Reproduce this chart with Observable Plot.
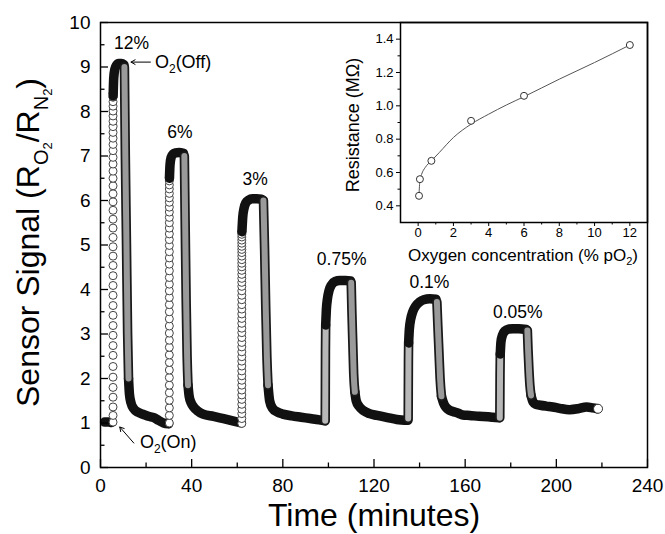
<!DOCTYPE html>
<html><head><meta charset="utf-8">
<script src="https://cdn.jsdelivr.net/npm/d3@7"></script>
<script src="https://cdn.jsdelivr.net/npm/@observablehq/plot@0.6"></script>
<style>
body{margin:0;background:#fff;}
#wrap{position:relative;width:665px;height:534px;}
#wrap svg{position:absolute;overflow:visible;}
</style></head><body><div id="wrap"></div>
<script>
// ---------------- Main chart data ----------------
const xTicks = [0, 40, 80, 120, 160, 200, 240];
const xMinor = [20, 60, 100, 140, 180, 220];
const yTicks = [0, 1, 2, 3, 4, 5, 6, 7, 8, 9, 10];
const yMinor = [0.5, 1.5, 2.5, 3.5, 4.5, 5.5, 6.5, 7.5, 8.5, 9.5];

const pulseNames = ["12%", "6%", "3%", "0.75%", "0.1%", "0.05%"];
const labelT = [13.6, 34.8, 67.9, 105.8, 144.3, 183.1];
const labelV = [9.52, 7.52, 6.47, 4.67, 4.15, 3.49];

// Rising edges where the individual samples are visible (pulses 12%, 6%, 3%)
const riseCircleT = [5.5, 30.2, 62.0];
const riseCircleV = [
  [1.02, 1.17, 1.36, 1.58, 1.80, 2.03, 2.27, 2.52, 2.74, 2.97, 3.19, 3.42, 3.64, 3.87, 4.09, 4.31, 4.54, 4.75, 4.96, 5.17, 5.38, 5.58, 5.78, 5.97, 6.15, 6.33, 6.50, 6.66, 6.82, 6.97, 7.12, 7.26, 7.40, 7.53, 7.66, 7.78, 7.90, 8.01, 8.12, 8.22, 8.32, 8.41],
  [1.00, 1.17, 1.34, 1.51, 1.68, 1.85, 2.02, 2.19, 2.36, 2.53, 2.70, 2.86, 3.02, 3.18, 3.34, 3.50, 3.66, 3.82, 3.97, 4.12, 4.27, 4.42, 4.57, 4.71, 4.85, 4.99, 5.12, 5.25, 5.38, 5.50, 5.62, 5.74, 5.85, 5.96, 6.06, 6.16, 6.26, 6.35, 6.44, 6.52],
  [0.99, 1.10, 1.21, 1.31, 1.42, 1.53, 1.63, 1.74, 1.85, 1.96, 2.06, 2.17, 2.28, 2.39, 2.49, 2.60, 2.71, 2.81, 2.92, 3.03, 3.13, 3.24, 3.35, 3.45, 3.56, 3.66, 3.77, 3.87, 3.97, 4.07, 4.16, 4.25, 4.34, 4.43, 4.51, 4.59, 4.67, 4.75, 4.83, 4.90, 4.97, 5.04, 5.11, 5.18, 5.24, 5.30]
];

// Dense rising edges (pulses 0.75%, 0.1%, 0.05%)
const riseBandT = [
  [98.6, 98.65, 98.7, 98.8],
  [135.0, 135.05, 135.1, 135.2],
  [175.2, 175.25, 175.3, 175.4]
];
const riseBandV = [
  [1.05, 1.8, 2.6, 3.2],
  [1.10, 1.7, 2.3, 2.8],
  [1.12, 1.6, 2.1, 2.55]
];

// Pulse tops (O2 on)
const topT = [
  [5.55, 5.8, 6.3, 7.0, 8.0, 9.2, 10.3],
  [30.25, 30.5, 31.0, 31.8, 33.0, 34.5, 36.4],
  [62.05, 62.4, 63.0, 63.8, 65.0, 66.6, 68.5, 70.5, 71.3],
  [98.8, 99.1, 99.6, 100.3, 101.3, 102.9, 105.0, 107.5, 109.8],
  [135.2, 135.5, 136.1, 137.0, 138.3, 140.0, 141.8, 144.5, 147.2],
  [175.4, 175.7, 176.4, 177.5, 179.0, 181.0, 183.5, 186.8]
];
const topV = [
  [8.35, 8.75, 8.95, 9.04, 9.08, 9.08, 9.05],
  [6.5, 6.8, 6.97, 7.04, 7.07, 7.08, 7.06],
  [5.3, 5.62, 5.83, 5.95, 6.01, 6.04, 6.04, 6.03, 6.0],
  [3.2, 3.55, 3.8, 3.98, 4.1, 4.18, 4.2, 4.2, 4.19],
  [2.8, 3.1, 3.33, 3.5, 3.63, 3.72, 3.77, 3.79, 3.78],
  [2.55, 2.82, 2.98, 3.07, 3.11, 3.12, 3.12, 3.1]
];

// Falling edges (O2 off)
const fallT = [
  [10.5, 10.9, 11.4, 11.9, 12.3],
  [36.8, 37.2, 37.6, 38.0, 38.4],
  [71.5, 72.0, 72.5, 73.0, 73.5],
  [110.0, 110.3, 110.7, 111.1, 111.6],
  [147.6, 148.0, 148.5, 149.0, 149.6],
  [187.3, 187.6, 188.0, 188.4, 188.9]
];
const fallV = [
  [9.0, 7.0, 5.0, 3.0, 2.0],
  [7.0, 5.3, 3.7, 2.5, 1.85],
  [6.0, 4.9, 3.6, 2.5, 1.85],
  [4.15, 3.5, 2.8, 2.1, 1.7],
  [3.72, 3.2, 2.6, 2.0, 1.6],
  [3.08, 2.65, 2.2, 1.85, 1.62]
];

// Baseline before the first pulse and recovery tails
const tailT = [
  [1.8, 3.5, 4.8],
  [12.3, 12.7, 13.4, 14.6, 16.5, 18.9, 21.0, 23.4, 25.5, 27.7, 29.9],
  [38.4, 38.9, 39.8, 41.0, 42.4, 45.0, 49.6, 54.0, 58.0, 61.8],
  [73.5, 74.2, 75.5, 77.5, 80.0, 84.0, 88.0, 92.0, 96.0, 98.4],
  [111.6, 112.2, 113.5, 115.3, 118.0, 121.3, 126.0, 130.0, 134.9],
  [149.6, 150.5, 151.6, 153.0, 154.6, 157.0, 159.0, 162.0, 166.0, 170.0, 172.0, 175.0],
  [188.9, 189.8, 191.0, 193.0, 195.5, 198.4, 201.5, 205.8, 209.5, 213.3, 216.0, 218.0]
];
const tailV = [
  [1.02, 1.02, 1.01],
  [2.0, 1.65, 1.45, 1.32, 1.24, 1.19, 1.15, 1.12, 1.06, 1.0, 0.98],
  [1.85, 1.6, 1.45, 1.35, 1.28, 1.2, 1.15, 1.1, 1.05, 1.0],
  [1.85, 1.5, 1.33, 1.25, 1.2, 1.16, 1.13, 1.1, 1.07, 1.05],
  [1.7, 1.5, 1.37, 1.28, 1.21, 1.17, 1.12, 1.08, 1.06],
  [1.6, 1.45, 1.35, 1.29, 1.26, 1.22, 1.18, 1.17, 1.15, 1.14, 1.13, 1.12],
  [1.62, 1.47, 1.42, 1.4, 1.38, 1.36, 1.33, 1.3, 1.32, 1.36, 1.34, 1.32]
];
const endT = [218.3];
const endV = [1.32];

// Annotations
const arrowT1 = [21.9, 14.6], arrowV1 = [9.11, 0.55];
const arrowT2 = [13.4, 8.45], arrowV2 = [9.11, 0.91];
const o2Text = ["(Off)", "(On)"];
const o2T = [24.1, 17.5];
const o2V = [8.97, 0.43];

// ---------------- Inset data ----------------
const insetX = [0.05, 0.1, 0.75, 3, 6, 12];
const insetR = [0.46, 0.56, 0.67, 0.91, 1.06, 1.365];
const fitX = [0.05, 0.1, 0.2, 0.4, 0.75, 1.2, 2, 3, 4, 5, 6, 8, 10, 12];
const fitR = [0.47, 0.55, 0.59, 0.63, 0.67, 0.72, 0.81, 0.89, 0.95, 1.005, 1.055, 1.16, 1.26, 1.365];
const insetXTicks = [0, 2, 4, 6, 8, 10, 12];
const insetXMinor = [1, 3, 5, 7, 9, 11];
const insetYTicks = [0.4, 0.6, 0.8, 1.0, 1.2, 1.4];
const insetYMinor = [0.5, 0.7, 0.9, 1.1, 1.3];

// ---------------- Build tables ----------------
const FONT = "'Liberation Sans', Arial, sans-serif";
function rowsOf(Ts, Vs, kind) {
  const rows = [];
  Ts.forEach((ts, i) => ts.forEach((t, j) => rows.push({t, v: Vs[i][j], seg: kind + i})));
  return rows;
}
const tailRows = rowsOf(tailT, tailV, "tail");
const topRows = rowsOf(topT, topV, "top");
const fallRows = rowsOf(fallT, fallV, "fall");
const riseBandRows = rowsOf(riseBandT, riseBandV, "rise");
const circleRows = [];
riseCircleV.forEach((vs, i) => vs.forEach(v => circleRows.push({t: riseCircleT[i], v})));

const band = (stroke, w) => ({x: "t", y: "v", z: "seg", stroke, strokeWidth: w,
  strokeLinecap: "round", strokeLinejoin: "round", curve: "monotone-x"});

const main = Plot.plot({
  width: 665, height: 534,
  marginLeft: 100, marginRight: 18, marginTop: 22, marginBottom: 67,
  style: {fontFamily: FONT, background: "none", color: "black"},
  x: {domain: [0, 240]},
  y: {domain: [0, 10]},
  marks: [
    Plot.line(tailRows, band("#111", 9.5)),
    Plot.line(riseBandRows, band("#1a1a1a", 9.5)),
    Plot.line(riseBandRows, band("#b8b8b8", 6)),
    Plot.dot(circleRows, {x: "t", y: "v", r: 4, fill: "white", stroke: "#444", strokeWidth: 1}),
    Plot.line(topRows, band("#111", 9.5)),
    Plot.line(fallRows, band("#1a1a1a", 9.5)),
    Plot.line(fallRows, band("#9a9a9a", 6)),
    Plot.dot(endT, {x: endT, y: endV, r: 4.5, fill: "white", stroke: "#333", strokeWidth: 1}),
    Plot.text(pulseNames, {x: labelT, y: labelV, text: d => d, fontSize: 17.5, textAnchor: "middle", lineAnchor: "middle", fill: "black"}),
    Plot.arrow(arrowT1, {x1: arrowT1, y1: arrowV1, x2: arrowT2, y2: arrowV2, stroke: "black", strokeWidth: 1, headLength: 7}),
    Plot.frame({stroke: "black", strokeWidth: 1.5}),
    Plot.axisX({ticks: xTicks, anchor: "bottom", tickSize: 0, tickPadding: 11, fontSize: 19, label: null}),
    Plot.axisX({ticks: xTicks, anchor: "bottom", tickSize: -8, fill: "none", label: null, strokeWidth: 1.3}),
    Plot.axisX({ticks: xMinor, anchor: "bottom", tickSize: -4.5, fill: "none", label: null, strokeWidth: 1.3}),
    Plot.axisY({ticks: yTicks, anchor: "left", tickSize: 0, tickPadding: 10, fontSize: 19, label: null}),
    Plot.axisY({ticks: yTicks, anchor: "left", tickSize: -8, fill: "none", label: null, strokeWidth: 1.3}),
    Plot.axisY({ticks: yMinor, anchor: "left", tickSize: -4.5, fill: "none", label: null, strokeWidth: 1.3})
  ]
});
main.style.left = "0px"; main.style.top = "0px";
document.getElementById("wrap").appendChild(main);

const sx = main.scale("x"), sy = main.scale("y");
const msvg = d3.select(main);
// O2 annotations
o2Text.forEach((s, i) => {
  const t = msvg.append("text").attr("x", sx.apply(o2T[i])).attr("y", sy.apply(o2V[i]))
    .attr("text-anchor", "start")
    .attr("font-family", FONT).attr("font-size", 18).attr("fill", "black");
  t.append("tspan").text("O");
  t.append("tspan").attr("font-size", 12).attr("dy", 5).text("2");
  t.append("tspan").attr("font-size", 18).attr("dy", -5).text(s);
});
// axis titles
msvg.append("text").attr("x", 374).attr("y", 526).attr("text-anchor", "middle")
  .attr("font-family", FONT).attr("font-size", 32).attr("fill", "black").text("Time (minutes)");
const yt = msvg.append("text").attr("transform", "translate(39,407) rotate(-90)")
  .attr("text-anchor", "start")
  .attr("font-family", FONT).attr("font-size", 32).attr("fill", "black");
yt.append("tspan").text("Sensor Signal (R");
yt.append("tspan").attr("font-size", 20).attr("dy", 9).text("O");
yt.append("tspan").attr("font-size", 13).attr("dy", 4).text("2");
yt.append("tspan").attr("font-size", 32).attr("dy", -13).text("/R");
yt.append("tspan").attr("font-size", 20).attr("dy", 9).text("N");
yt.append("tspan").attr("font-size", 13).attr("dy", 4).text("2");
yt.append("tspan").attr("font-size", 32).attr("dy", -13).text(")");

// ---------------- Inset ----------------
const inset = Plot.plot({
  width: 335, height: 272,
  marginLeft: 70, marginRight: 18, marginTop: 22, marginBottom: 50,
  style: {fontFamily: FONT, background: "none", color: "black"},
  x: {domain: [-1, 13]},
  y: {domain: [0.3, 1.5]},
  marks: [
    Plot.line(fitX, {x: fitX, y: fitR, stroke: "#555", strokeWidth: 1, curve: "monotone-x"}),
    Plot.dot(insetX, {x: insetX, y: insetR, r: 3.5, fill: "white", stroke: "#333", strokeWidth: 1}),
    Plot.frame({stroke: "black", strokeWidth: 1.5}),
    Plot.axisX({ticks: insetXTicks, anchor: "bottom", tickSize: 4, tickPadding: 1, fontSize: 13, label: null}),
    Plot.axisX({ticks: insetXMinor, anchor: "bottom", tickSize: 2.5, fill: "none", label: null}),
    Plot.axisY({ticks: insetYTicks, anchor: "left", tickSize: 4, tickPadding: 3, fontSize: 13, tickFormat: d3.format(".1f"), label: null}),
    Plot.axisY({ticks: insetYMinor, anchor: "left", tickSize: 2.5, fill: "none", label: null})
  ]
});
inset.style.left = "330px"; inset.style.top = "0px";
document.getElementById("wrap").appendChild(inset);
const isvg = d3.select(inset);
const xt = isvg.append("text").attr("x", 193).attr("y", 261).attr("text-anchor", "middle")
  .attr("font-family", FONT).attr("font-size", 17).attr("fill", "black");
xt.append("tspan").text("Oxygen concentration (% pO");
xt.append("tspan").attr("font-size", 11).attr("dy", 4).text("2");
xt.append("tspan").attr("font-size", 17).attr("dy", -4).text(")");
isvg.append("text").attr("transform", "translate(29,125) rotate(-90)").attr("text-anchor", "middle")
  .attr("font-family", FONT).attr("font-size", 18).attr("fill", "black").text("Resistance (MΩ)");
</script></body></html>
